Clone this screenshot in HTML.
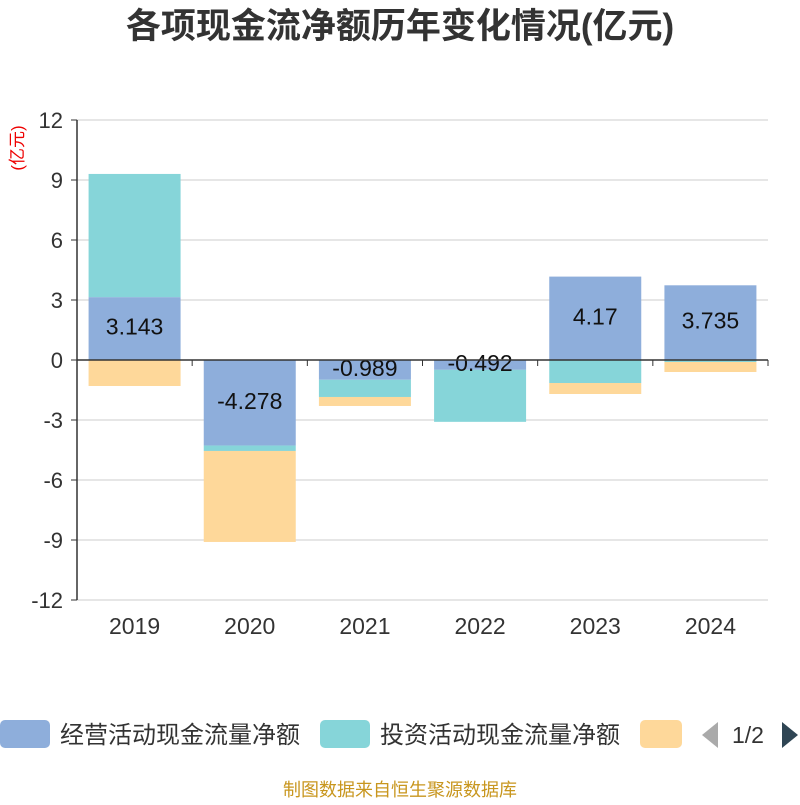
<!DOCTYPE html>
<html><head><meta charset="utf-8"><style>
body{margin:0;background:#fff;}
svg text{font-family:"Liberation Sans","Noto Sans CJK SC",sans-serif;}
</style></head><body>
<svg id="c" width="800" height="800" xmlns="http://www.w3.org/2000/svg">
<text x="400" y="38" text-anchor="middle" font-size="35" font-weight="bold" fill="#333">各项现金流净额历年变化情况(亿元)</text>
<text x="0" y="0" transform="translate(23,148) rotate(-90)" text-anchor="middle" font-size="17" fill="#e00">(亿元)</text>
<g id="grid"></g><g id="bars"></g><g id="axes"></g>
<g>
<rect x="0" y="720" width="50" height="28" rx="5" fill="#8eaedb"/>
<text x="60" y="743" font-size="24" fill="#333">经营活动现金流量净额</text>
<rect x="320" y="720" width="50" height="28" rx="5" fill="#86d5d9"/>
<text x="380" y="743" font-size="24" fill="#333">投资活动现金流量净额</text>
<rect x="640" y="720" width="42" height="28" rx="5" fill="#fed89a"/>
<polygon points="718,722 718,748 702,735" fill="#aaa"/>
<text x="732" y="743" font-size="23" fill="#333">1/2</text>
<polygon points="782,722 782,748 798,735" fill="#2f4554"/>
</g>
<text x="400" y="796" text-anchor="middle" font-size="18" fill="#c8961e">制图数据来自恒生聚源数据库</text>
</svg>
<script>
const categories=["2019","2020","2021","2022","2023","2024"];
const operating=[3.143,-4.278,-0.989,-0.492,4.17,3.735];
const investing=[6.16,-0.27,-0.86,-2.6,-1.15,-0.1];
const financing=[-1.3,-4.55,-0.45,0,-0.55,-0.5];
const yTicks=[12,9,6,3,0,-3,-6,-9,-12];
const NS="http://www.w3.org/2000/svg";
const L=77,R=768,T=120,B=600,yMin=-12,yMax=12;
const y=v=>T+(yMax-v)/(yMax-yMin)*(B-T);
const bw=(R-L)/categories.length;
const x=i=>L+bw*i+bw/2;
function mk(tag,attrs,parent){const e=document.createElementNS(NS,tag);for(const k in attrs)e.setAttribute(k,attrs[k]);parent.appendChild(e);return e;}
const grid=document.getElementById('grid'),bars=document.getElementById('bars'),axes=document.getElementById('axes');
yTicks.forEach(t=>{
 const l=mk('line',{x1:L,x2:R,y1:y(t),y2:y(t),stroke:'#ccc','stroke-width':1},grid);
 
 
 const tx=mk('text',{x:L-14,y:y(t)+8,'text-anchor':'end','font-size':22,fill:'#333'},axes);
 tx.textContent=t;
 
 
 const tk=mk('line',{x1:L-6,x2:L,y1:y(t),y2:y(t),stroke:'#333'},axes);
 
 
});
const series=[[operating,'#8eaedb','operating'],[investing,'#86d5d9','investing'],[financing,'#fed89a','financing']];
categories.forEach((c,i)=>{
 let pos=0,neg=0;
 series.forEach(([arr,col,nm])=>{
  const v=arr[i];let a,b;
  if(v>=0){a=pos;b=pos+v;pos=b;}else{a=neg;b=neg+v;neg=b;}
  const top=y(Math.max(a,b)),bot=y(Math.min(a,b));
  const r=mk('rect',{x:x(i)-46,y:top,width:92,height:Math.max(0,bot-top),fill:col},bars);
  
  
  if(nm==='operating'){
   const t=mk('text',{x:x(i),y:(top+bot)/2+6,'text-anchor':'middle','font-size':23,fill:'#111'},axes);
   t.textContent=v;
   
   
  }
 });
 const tx=mk('text',{x:x(i),y:634,'text-anchor':'middle','font-size':23,fill:'#333'},axes);
 tx.textContent=c;
 
 
 const tk=mk('line',{x1:L+bw*(i+1),x2:L+bw*(i+1),y1:y(0),y2:y(0)+6,stroke:'#333'},axes);
 
 
});
const ya=mk('line',{x1:L,x2:L,y1:T,y2:B,stroke:'#333','stroke-width':1.5},axes);


const xa=mk('line',{x1:L,x2:R,y1:y(0),y2:y(0),stroke:'#333','stroke-width':1.5},axes);


</script>
</body></html>
